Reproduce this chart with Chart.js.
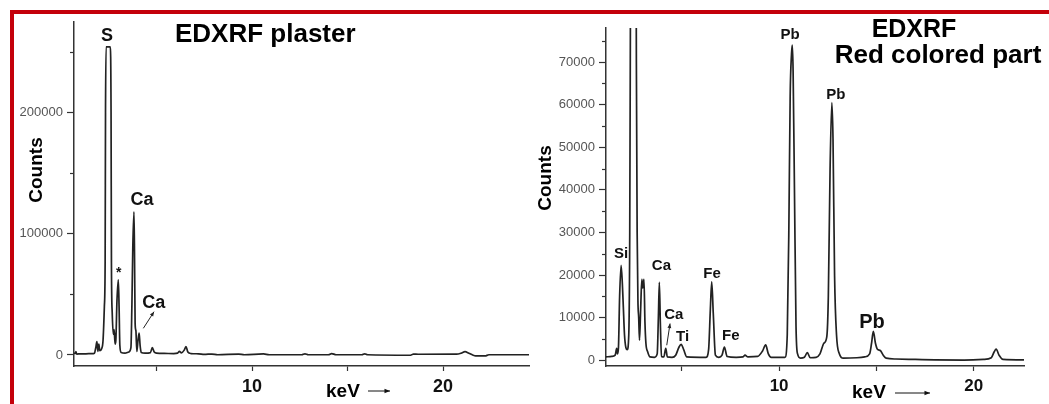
<!DOCTYPE html>
<html>
<head>
<meta charset="utf-8">
<script src="https://cdn.jsdelivr.net/npm/chart.js@4.4.1/dist/chart.umd.min.js"></script>
<style>
	html, body { margin: 0; padding: 0; background: #fff; }
	#wrap { position: relative; width: 1049px; height: 404px; overflow: hidden; }
	#wrap canvas { position: absolute; left: 0; top: 0; }
	.frame_top { position: absolute; left: 10px; top: 10px; right: 0; height: 4px; background: #c4000a; }
	.frame_left { position: absolute; left: 10px; top: 10px; bottom: 0; width: 4px; background: #c4000a; }
</style>
</head>
<body>
<div id="wrap">
	<div class="frame_top"></div>
	<div class="frame_left"></div>
	<canvas id="chart_plaster" width="1049" height="404"></canvas>
	<canvas id="chart_red" width="1049" height="404"></canvas>
</div>
<script>
'use strict';

// spectrum: plaster
const plasterKeV = [0.68, 0.74, 0.78, 0.82, 1.0, 1.3, 1.6, 1.75, 1.82, 1.88, 1.93, 1.98, 2.03, 2.12, 2.2, 2.27, 2.31, 2.33, 2.36,
	2.58, 2.62, 2.64, 2.68, 2.74, 2.78, 2.83, 2.87, 2.93, 3.0, 3.04, 3.08, 3.15, 3.35, 3.55, 3.66, 3.71, 3.76, 3.82,
	3.85, 3.88, 3.92, 3.97, 4.03, 4.09, 4.14, 4.2, 4.4, 4.68, 4.78, 4.88, 5.0, 5.4, 5.9, 6.1, 6.2, 6.3, 6.45,
	6.54, 6.64, 6.8, 7.2, 7.5, 7.9, 8.2, 9.3, 9.6, 10.6, 10.9, 12.6, 12.77, 12.95, 14.0, 14.17, 14.4, 15.75, 15.9,
	16.05, 18.3, 18.45, 18.7, 20.7, 20.95, 21.15, 21.35, 21.55, 21.7, 22.2, 22.4, 24.5];
const plasterCounts = [1600, 1200, 2700, 800, 900, 1000, 1100, 1500, 6000, 11000, 3000, 9000, 3500, 5000, 12000, 40000, 76000, 200000, 254000,
	254000, 200000, 76000, 35000, 17000, 21000, 9000, 12000, 45000, 62000, 40000, 8000, 2000, 1500, 2500, 6000, 40000, 90000, 118000,
	80000, 26000, 20000, 3000, 12000, 18000, 8000, 2000, 1500, 2000, 6000, 2500, 1500, 1300, 1200, 1500, 3000, 1800, 4000,
	7000, 2500, 1200, 1000, 500, 800, 200, 700, 200, 900, 200, 200, 1000, 200, 200, 1200, 200, 200, 1000,
	200, -200, 800, 600, 700, 1500, 2700, 1500, 0, -800, -800, 200, 200];

// spectrum: red colored part
const redKeV = [1.11, 1.4, 1.58, 1.66, 1.70, 1.75, 1.81, 1.885, 1.95, 2.0, 2.06, 2.13, 2.2, 2.28, 2.33, 2.37, 2.42, 2.62, 2.67,
	2.71, 2.75, 2.79, 2.83, 2.89, 2.95, 3.0, 3.06, 3.11, 3.16, 3.25, 3.37, 3.6, 3.74, 3.80, 3.85, 3.90, 3.96, 4.08,
	4.18, 4.26, 4.5, 4.69, 4.85, 4.97, 5.10, 5.26, 6.25, 6.38, 6.47, 6.54, 6.62, 6.73, 6.9, 7.07, 7.19, 7.33, 7.8,
	8.15, 8.25, 8.4, 8.9, 9.15, 9.31, 9.45, 9.6, 10.3, 10.42, 10.5, 10.57, 10.64, 10.68, 10.72, 10.79, 10.87, 10.95, 11.1,
	11.3, 11.45, 11.6, 11.9, 12.1, 12.3, 12.45, 12.53, 12.62, 12.71, 12.77, 12.85, 12.95, 13.1, 13.3, 14.0, 14.4, 14.65, 14.75,
	14.84, 14.95, 15.05, 15.2, 15.35, 15.5, 16.0, 17.0, 18.0, 19.5, 20.5, 20.9, 21.05, 21.15, 21.3, 21.5, 22.58];
const redCounts = [800, 900, 1200, 2800, 1500, 3000, 15000, 22300, 18000, 12500, 6000, 3000, 2500, 6000, 30000, 90000, 150000, 150000, 70000,
	30000, 14000, 10000, 4700, 12000, 19000, 17000, 19000, 9000, 4000, 2000, 800, 700, 1500, 10000, 18300, 9000, 900, 800,
	2800, 800, 700, 1200, 3000, 3750, 2500, 800, 700, 2500, 12000, 18400, 11000, 1200, 700, 1200, 3100, 900, 700,
	800, 1200, 800, 900, 2200, 3600, 1500, 700, 700, 6000, 30000, 62000, 72000, 74000, 68000, 40000, 8000, 1500, 500,
	700, 1800, 600, 700, 1500, 4000, 5500, 15000, 45000, 60500, 52000, 20000, 6000, 1500, 500, 600, 800, 1500, 4000,
	6800, 4000, 2600, 2300, 1200, 500, 300, 200, 100, 50, 200, 600, 2000, 2600, 1200, 200, 100];

// ticks
const plasterTicksX = [5, 10, 15, 20];
const plasterTicksY = [0, 100000, 200000];
const plasterMinorY = [50000, 150000, 250000];
const redTicksX = [5, 10, 15, 20];
const redTicksY = [0, 10000, 20000, 30000, 40000, 50000, 60000, 70000];
const redMinorY = [5000, 15000, 25000, 35000, 45000, 55000, 65000, 75000];

const FONT = "'Liberation Sans', Arial, sans-serif";

const toPoints = (xs, ys) => xs.map((x, i) => ({x: x, y: ys[i]}));

const drawArrow = (ctx, x1, y1, x2, y2, head) => {
	const a = Math.atan2(y2 - y1, x2 - x1);
	ctx.beginPath();
	ctx.moveTo(x1, y1);
	ctx.lineTo(x2, y2);
	ctx.stroke();
	ctx.beginPath();
	ctx.moveTo(x2, y2);
	ctx.lineTo(x2 - head * Math.cos(a - 0.4), y2 - head * Math.sin(a - 0.4));
	ctx.lineTo(x2 - head * Math.cos(a + 0.4), y2 - head * Math.sin(a + 0.4));
	ctx.closePath();
	ctx.fill();
};

// labels, titles, minor ticks
const makeExtras = (spec) => ({
	id: 'extras',
	afterDraw(chart) {
		const ctx = chart.ctx;
		const xs = chart.scales.x;
		const ys = chart.scales.y;
		const left = chart.chartArea.left;

		ctx.save();
		ctx.strokeStyle = '#333';
		ctx.lineWidth = 1.2;
		spec.minorY.forEach(v => {
			const y = Math.round(ys.getPixelForValue(v)) + 0.5;
			ctx.beginPath();
			ctx.moveTo(left, y);
			ctx.lineTo(left - 4, y);
			ctx.stroke();
		});

		ctx.fillStyle = '#111';
		ctx.textAlign = 'center';
		ctx.textBaseline = 'alphabetic';
		spec.peaks.forEach(p => {
			ctx.font = `bold ${p.size}px ${FONT}`;
			ctx.fillText(p.text, xs.getPixelForValue(p.kev), ys.getPixelForValue(p.counts));
		});

		ctx.strokeStyle = '#222';
		ctx.fillStyle = '#222';
		ctx.lineWidth = 1;
		const ar = spec.arrow;
		drawArrow(ctx, xs.getPixelForValue(ar[0]), ys.getPixelForValue(ar[1]),
			xs.getPixelForValue(ar[2]), ys.getPixelForValue(ar[3]), 5);

		ctx.fillStyle = '#000';
		spec.titles.forEach(t => {
			ctx.font = `bold ${t.size}px ${FONT}`;
			ctx.textAlign = t.align;
			ctx.fillText(t.text, t.x, t.y);
		});

		// axis titles
		const kv = spec.xTitle;
		ctx.font = `bold 19px ${FONT}`;
		ctx.textAlign = 'left';
		ctx.fillText('keV', kv.x, kv.y);
		ctx.strokeStyle = '#111';
		ctx.fillStyle = '#111';
		drawArrow(ctx, kv.a1, kv.ay, kv.a2, kv.ay, 6);

		const ct = spec.yTitle;
		ctx.save();
		ctx.translate(ct.x, ct.y);
		ctx.rotate(-Math.PI / 2);
		ctx.font = `bold 19px ${FONT}`;
		ctx.textAlign = 'center';
		ctx.textBaseline = 'middle';
		ctx.fillStyle = '#000';
		ctx.fillText('Counts', 0, 0);
		ctx.restore();

		ctx.restore();
	}
});

const buildOptions = (o) => ({
	responsive: false,
	animation: false,
	events: [],
	layout: {
		padding: o.padding
	},
	plugins: {
		legend: { display: false },
		tooltip: { enabled: false }
	},
	scales: {
		x: {
			type: 'linear',
			min: o.xMin,
			max: o.xMax,
			afterFit: (scale) => { scale.height = 38; },
			afterBuildTicks: (scale) => { scale.ticks = o.ticksX.map(v => ({value: v})); },
			border: { display: true, color: '#333', width: 1.5 },
			grid: { drawOnChartArea: false, drawTicks: true, tickLength: 5, tickColor: '#333', tickWidth: 1.2 },
			ticks: {
				color: '#111',
				font: { family: FONT, size: o.xFont, weight: 'bold' },
				padding: 5,
				maxRotation: 0,
				autoSkip: false,
				callback: (v) => (v % 10 === 0 ? String(v) : '')
			}
		},
		y: {
			type: 'linear',
			min: o.yMin,
			max: o.yMax,
			afterFit: (scale) => { scale.width = o.yWidth; },
			afterBuildTicks: (scale) => { scale.ticks = o.ticksY.map(v => ({value: v})); },
			border: { display: true, color: '#333', width: 1.5 },
			grid: { drawOnChartArea: false, drawTicks: true, tickLength: 7, tickColor: '#333', tickWidth: 1.2 },
			ticks: {
				color: '#555',
				font: { family: FONT, size: 13 },
				padding: 4,
				autoSkip: false,
				callback: (v) => String(v)
			}
		}
	}
});

const lineSet = (pts) => ({
	data: pts,
	borderColor: '#222',
	borderWidth: 1.7,
	pointRadius: 0,
	cubicInterpolationMode: 'monotone',
	fill: false
});

// chart: plaster
const chart_plaster = document.querySelector('#chart_plaster').getContext('2d');
if(chart_plaster) {
	new Chart(chart_plaster, {
		type: 'line',
		data: { datasets: [lineSet(toPoints(plasterKeV, plasterCounts))] },
		options: buildOptions({
			padding: { left: 0, top: 22, right: 520, bottom: 0 },
			xMin: 0.68, xMax: 24.5, yMin: -9070, yMax: 274500,
			ticksX: plasterTicksX, ticksY: plasterTicksY,
			xFont: 18, yWidth: 74
		}),
		plugins: [makeExtras({
			minorY: plasterMinorY,
			peaks: [
				{ text: 'S', kev: 2.41, counts: 259000, size: 18 },
				{ text: '*', kev: 3.02, counts: 64000, size: 14 },
				{ text: 'Ca', kev: 4.24, counts: 123700, size: 18 },
				{ text: 'Ca', kev: 4.85, counts: 38500, size: 18 }
			],
			arrow: [4.31, 22000, 4.87, 35700],
			titles: [
				{ text: 'EDXRF plaster', x: 175, y: 42, size: 26, align: 'left' }
			],
			xTitle: { x: 326, y: 397, a1: 368, a2: 390, ay: 391 },
			yTitle: { x: 37, y: 170 }
		})]
	});
}

// chart: red colored part
const chart_red = document.querySelector('#chart_red').getContext('2d');
if(chart_red) {
	new Chart(chart_red, {
		type: 'line',
		data: { datasets: [lineSet(toPoints(redKeV, redCounts))] },
		options: buildOptions({
			padding: { left: 530, top: 28, right: 25, bottom: 0 },
			xMin: 1.11, xMax: 22.58, yMin: -1340, yMax: 78000,
			ticksX: redTicksX, ticksY: redTicksY,
			xFont: 17, yWidth: 76
		}),
		plugins: [makeExtras({
			minorY: redMinorY,
			peaks: [
				{ text: 'Si', kev: 1.885, counts: 23900, size: 15 },
				{ text: 'Ca', kev: 3.955, counts: 21160, size: 15 },
				{ text: 'Ca', kev: 4.59, counts: 9800, size: 15 },
				{ text: 'Ti', kev: 5.04, counts: 4540, size: 15 },
				{ text: 'Fe', kev: 6.56, counts: 19210, size: 15 },
				{ text: 'Fe', kev: 7.52, counts: 4870, size: 15 },
				{ text: 'Pb', kev: 10.565, counts: 75400, size: 15 },
				{ text: 'Pb', kev: 12.91, counts: 61300, size: 15 },
				{ text: 'Pb', kev: 14.77, counts: 7690, size: 20 }
			],
			arrow: [4.23, 3530, 4.40, 8630],
			titles: [
				{ text: 'EDXRF', x: 914, y: 37, size: 25, align: 'center' },
				{ text: 'Red colored part', x: 938, y: 63, size: 26, align: 'center' }
			],
			xTitle: { x: 852, y: 398, a1: 895, a2: 930, ay: 393 },
			yTitle: { x: 546, y: 178 }
		})]
	});
}
</script>
</body>
</html>
